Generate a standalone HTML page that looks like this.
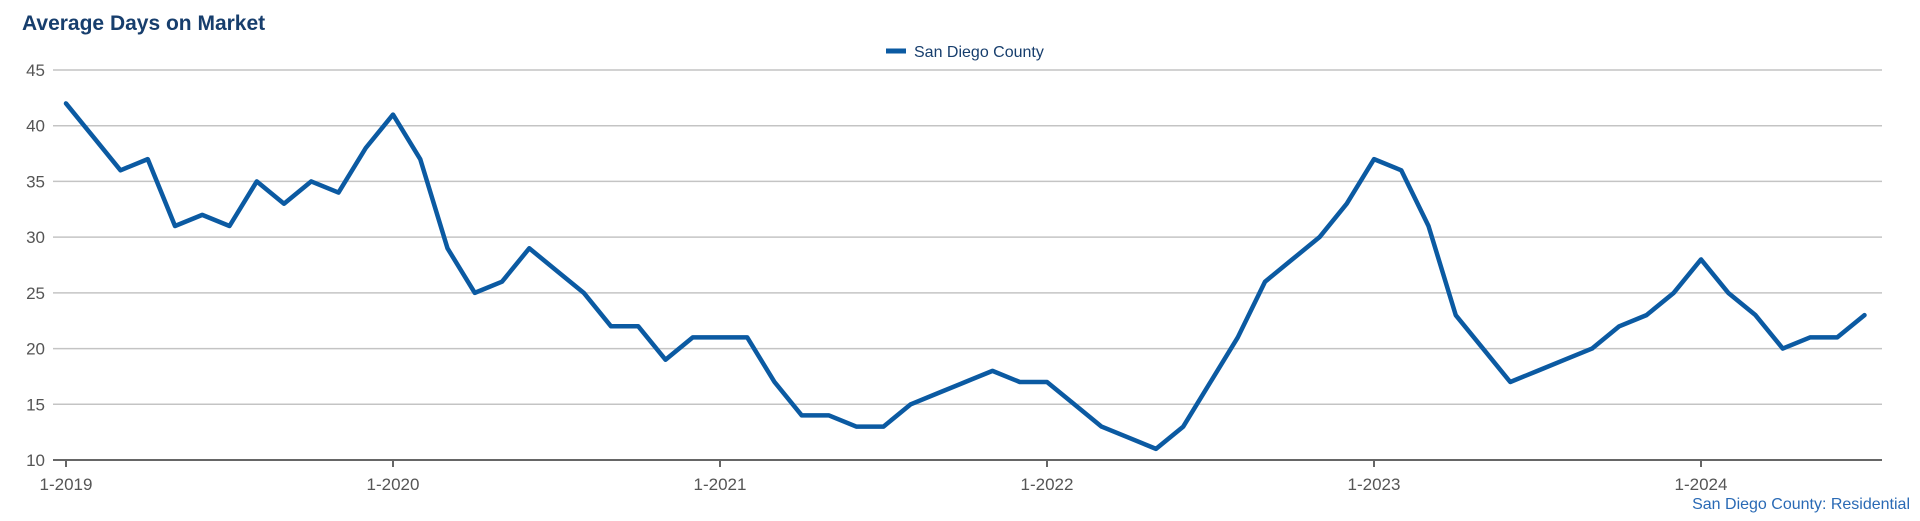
<!DOCTYPE html>
<html><head><meta charset="utf-8"><style>
body{margin:0;background:#fff;width:1920px;height:516px;overflow:hidden;font-family:"Liberation Sans",sans-serif}
</style></head><body>
<svg width="1920" height="516" id="c">
<text x="22" y="30" font-size="21" font-weight="bold" fill="#173e6d">Average Days on Market</text>
<g>
<line x1="886" y1="51" x2="906" y2="51" stroke="#0b5aa2" stroke-width="5"/>
<text x="914" y="57" font-size="16" fill="#173e6d">San Diego County</text>
</g>
<text x="1910" y="509" font-size="16" fill="#2a6ab5" text-anchor="end">San Diego County: Residential</text>
<g id="grid"></g><g id="xax"></g><g id="ln"></g>
</svg>
<script>
const categories=["1-2019","1-2020","1-2021","1-2022","1-2023","1-2024"];
const yTicks=[10,15,20,25,30,35,40,45];
const values=[42,39,36,37,31,32,31,35,33,35,34,38,
41,37,29,25,26,29,27,25,22,22,19,21,
21,21,17,14,14,13,13,15,16,17,18,17,
17,15,13,12,11,13,17,21,26,28,30,33,
37,36,31,23,20,17,18,19,20,22,23,25,
28,25,23,20,21,21,23];
const NS="http://www.w3.org/2000/svg";
const x0=66,mw=27.25,L=53,R=1882,yTop=70,yBot=460;
const X=i=>x0+i*mw, Y=v=>yBot-(v-10)/35*(yBot-yTop);
function mk(t,a,p){const e=document.createElementNS(NS,t);for(const k in a)e.setAttribute(k,a[k]);p.appendChild(e);return e;}
const g=document.getElementById('grid');
yTicks.forEach(v=>{
const l=mk('line',{x1:L,x2:R,y1:Y(v),y2:Y(v),stroke:v==10?'#666':'#c4c4c4','stroke-width':v==10?2:1.5},g);


const t=mk('text',{x:45,y:Y(v)+6,'font-size':17,fill:'#555','text-anchor':'end'},g);
t.textContent=v;


});
const xa=document.getElementById('xax');
categories.forEach((c,i)=>{
const x=X(i*12);
mk('line',{x1:x,x2:x,y1:yBot,y2:yBot+7,stroke:'#666','stroke-width':2},xa);
const t=mk('text',{x:x,y:490,'font-size':17,fill:'#555','text-anchor':'middle'},xa);
t.textContent=c;


});
const p=mk('polyline',{points:values.map((v,i)=>X(i)+','+Y(v)).join(' '),fill:'none',stroke:'#0b5aa2','stroke-width':4.5,'stroke-linejoin':'round','stroke-linecap':'round'},document.getElementById('ln'));


</script>
</body></html>
